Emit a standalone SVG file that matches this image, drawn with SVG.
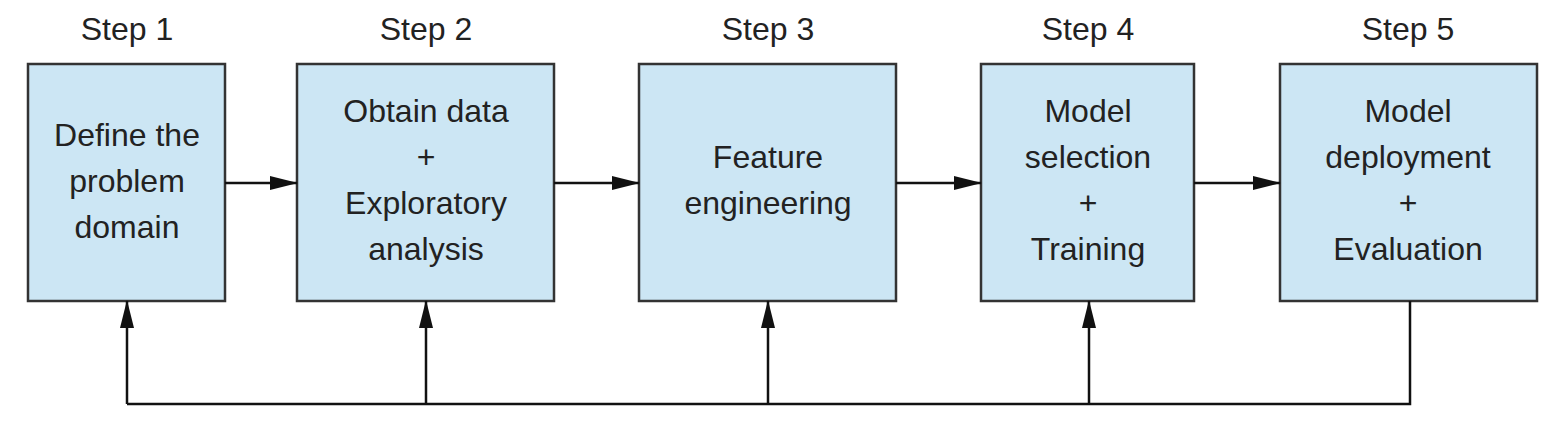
<svg xmlns="http://www.w3.org/2000/svg" width="1550" height="424" viewBox="0 0 1550 424">
<style>
.box{fill:#cce6f4;stroke:#333;stroke-width:2.5}
text{font-family:"Liberation Sans",Arial,sans-serif;font-size:32px;fill:#222;text-anchor:middle}
.c{stroke:#111;stroke-width:2.5;fill:none}
</style>
<defs><marker id="a" markerWidth="12" markerHeight="10" refX="11" refY="5" orient="auto" markerUnits="userSpaceOnUse"><path d="M0,0 L12,5 L0,10 Z" fill="#111"/></marker>
<marker id="b" markerWidth="28" markerHeight="14" refX="27" refY="7" orient="auto" markerUnits="userSpaceOnUse"><path d="M0,0 L28,7 L0,14 Z" fill="#111"/></marker></defs>
<g id="n1"><text x="127" y="40">Step 1</text><rect class="box" x="28" y="64" width="197" height="237"/><text x="127" y="146">Define the</text><text x="127" y="192">problem</text><text x="127" y="238">domain</text></g>
<g id="n2"><text x="426" y="40">Step 2</text><rect class="box" x="297" y="64" width="257" height="237"/><text x="426" y="122">Obtain data</text><text x="426" y="168">+</text><text x="426" y="214">Exploratory</text><text x="426" y="260">analysis</text></g>
<g id="n3"><text x="768" y="40">Step 3</text><rect class="box" x="639" y="64" width="257" height="237"/><text x="768" y="168">Feature</text><text x="768" y="214">engineering</text></g>
<g id="n4"><text x="1088" y="40">Step 4</text><rect class="box" x="981" y="64" width="213" height="237"/><text x="1088" y="122">Model</text><text x="1088" y="168">selection</text><text x="1088" y="214">+</text><text x="1088" y="260">Training</text></g>
<g id="n5"><text x="1408" y="40">Step 5</text><rect class="box" x="1280" y="64" width="257" height="237"/><text x="1408" y="122">Model</text><text x="1408" y="168">deployment</text><text x="1408" y="214">+</text><text x="1408" y="260">Evaluation</text></g>
<g id="connectors">
<line class="c" x1="225" y1="183" x2="297" y2="183" marker-end="url(#b)"/>
<line class="c" x1="554" y1="183" x2="639" y2="183" marker-end="url(#b)"/>
<line class="c" x1="896" y1="183" x2="981" y2="183" marker-end="url(#b)"/>
<line class="c" x1="1194" y1="183" x2="1280" y2="183" marker-end="url(#b)"/>
<polyline class="c" points="1410,301 1410,404 127,404"/>
<line class="c" x1="127" y1="404" x2="127" y2="301" marker-end="url(#b)"/>
<line class="c" x1="426" y1="404" x2="426" y2="301" marker-end="url(#b)"/>
<line class="c" x1="768" y1="404" x2="768" y2="301" marker-end="url(#b)"/>
<line class="c" x1="1089" y1="404" x2="1089" y2="301" marker-end="url(#b)"/>
</g>
</svg>
